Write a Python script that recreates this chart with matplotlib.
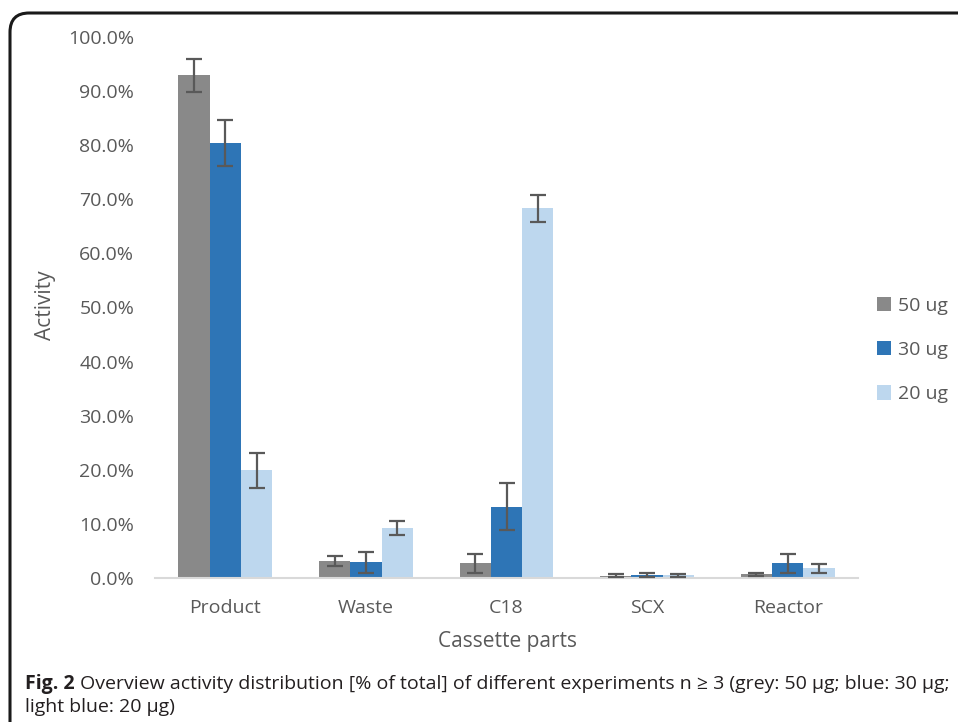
import matplotlib
matplotlib.use("Agg")
import matplotlib.pyplot as plt
import numpy as np
from matplotlib.patches import FancyBboxPatch

categories = ["Product", "Waste", "C18", "SCX", "Reactor"]
series_names = ["50 ug", "30 ug", "20 ug"]
vals_50 = [92.9, 3.1, 2.7, 0.4, 0.7]
vals_30 = [80.4, 2.9, 13.2, 0.55, 2.7]
vals_20 = [19.9, 9.3, 68.3, 0.5, 1.8]
err_50 = [3.0, 0.9, 1.8, 0.3, 0.3]
err_30 = [4.2, 1.9, 4.4, 0.3, 1.7]
err_20 = [3.2, 1.3, 2.5, 0.3, 0.8]
yticks = [0, 10, 20, 30, 40, 50, 60, 70, 80, 90, 100]
colors = ["#898989", "#2E75B6", "#BDD7EE"]

W, H = 958, 722
fig = plt.figure(figsize=(W/100, H/100), dpi=100)
font = "Open Sans"
tc = "#595959"

ax = fig.add_axes([155/W, 1-578/H, (858-155)/W, (578-37)/H])
x = np.arange(len(categories))
bw = 0.222
for i, (v, e, c, n) in enumerate(zip([vals_50, vals_30, vals_20],
                                      [err_50, err_30, err_20], colors, series_names)):
    ax.bar(x + (i-1)*bw, v, bw, color=c, label=n, zorder=2)
    ax.errorbar(x + (i-1)*bw, v, yerr=e, fmt="none", ecolor="#595959",
                elinewidth=1.6, capsize=5.5, capthick=1.6, zorder=3)

ax.set_xlim(-0.5, 4.5)
ax.set_ylim(0, 100)
ax.set_yticks(yticks)
ax.set_yticklabels([f"{t:.1f}%" for t in yticks], fontsize=14, color=tc, family=font)
ax.set_xticks(x)
ax.set_xticklabels(categories, fontsize=14, color=tc, family=font)
ax.tick_params(axis="both", length=0)
ax.tick_params(axis="x", pad=15)
ax.tick_params(axis="y", pad=15)
for s in ["top", "right", "left"]:
    ax.spines[s].set_visible(False)
ax.spines["bottom"].set_color("#D9D9D9")
ax.spines["bottom"].set_linewidth(1.5)

fig.text(46/W, 1-305/H, "Activity", rotation=90, ha="center", va="center",
         fontsize=15, color=tc, family=font)
fig.text(507/W, 1-641/H, "Cassette parts", ha="center", va="center",
         fontsize=15, color=tc, family=font)

leg = ax.legend(loc="center left", bbox_to_anchor=(859/W, 1-350/H),
                bbox_transform=fig.transFigure, frameon=False,
                prop={"family": font, "size": 14}, labelcolor=tc,
                handlelength=0.75, handleheight=0.75, handletextpad=0.35,
                labelspacing=1.35)

frame = FancyBboxPatch((10/W, -0.5), 1.5, (1-13/H)+0.5,
                       boxstyle="round,pad=0,rounding_size=0.02",
                       transform=fig.transFigure, fill=False, edgecolor="#1a1a1a",
                       linewidth=2.2, mutation_aspect=W/H)
fig.patches.append(frame)

cap_c = "#231F20"
cfs = 14.0
t1 = fig.text(25/W, 1-684/H, "Fig. 2", fontsize=cfs, fontweight="bold",
              color=cap_c, family=font, va="center")
fig.canvas.draw()
bb = t1.get_window_extent()
fig.text((bb.x1 + 5)/W, 1-684/H,
         "Overview activity distribution [% of total] of different experiments n \u2265 3 (grey: 50 \u03bcg; blue: 30 \u03bcg;",
         fontsize=cfs, color=cap_c, family=font, va="center")
fig.text(25/W, 1-707/H, "light blue: 20 \u03bcg)", fontsize=cfs, color=cap_c,
         family=font, va="center")

fig.savefig("out.png", dpi=100)
